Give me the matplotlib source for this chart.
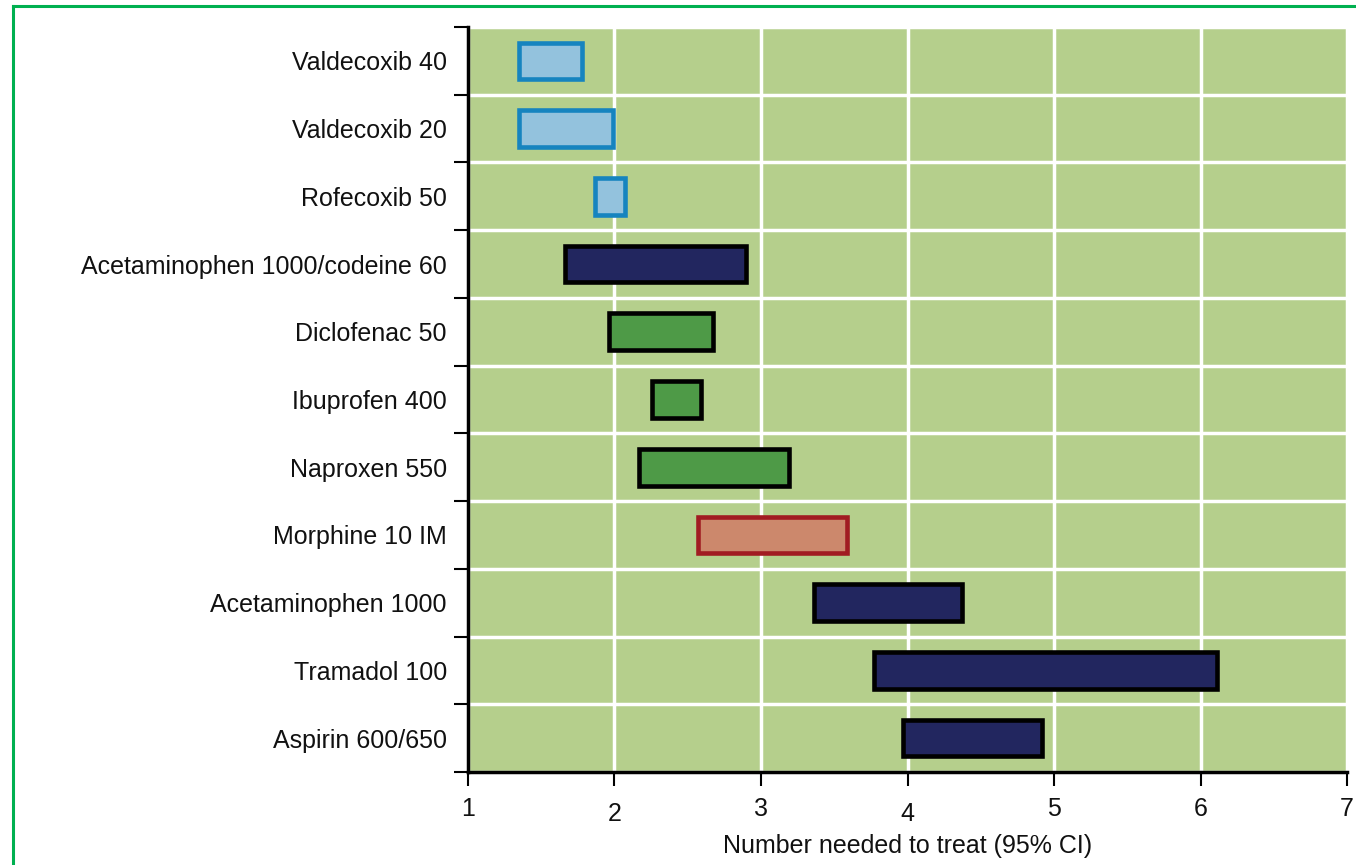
import matplotlib.pyplot as plt
from matplotlib.lines import Line2D
from matplotlib.transforms import ScaledTranslation

# data: 95% CI of NNT, top to bottom
drugs = ['Valdecoxib 40', 'Valdecoxib 20', 'Rofecoxib 50',
         'Acetaminophen 1000/codeine 60', 'Diclofenac 50', 'Ibuprofen 400',
         'Naproxen 550', 'Morphine 10 IM', 'Acetaminophen 1000',
         'Tramadol 100', 'Aspirin 600/650']
ci_low = [1.35, 1.35, 1.87, 1.66, 1.96, 2.26, 2.17, 2.57, 3.36, 3.77, 3.97]
ci_high = [1.78, 1.99, 2.07, 2.90, 2.67, 2.59, 3.19, 3.59, 4.37, 6.11, 4.92]
groups = ['cox2', 'cox2', 'cox2', 'combo', 'nsaid', 'nsaid', 'nsaid',
          'opioid', 'combo', 'combo', 'combo']

fills = {'cox2': '#93c2dd', 'combo': '#22265f', 'nsaid': '#4e9a47', 'opioid': '#cc886c'}
edges = {'cox2': '#1684bf', 'combo': '#000000', 'nsaid': '#000000', 'opioid': '#a11c22'}

plt.rcParams['font.family'] = ['Liberation Sans', 'DejaVu Sans']

fig = plt.figure(figsize=(13.56, 8.65), dpi=100)
ax = fig.add_axes([0.345, 0.1075, 0.6485, 0.8613])
ax.set_facecolor('#b5cf8c')

n = len(drugs)
ypos = list(range(n))
for y, lo, hi, g in zip(ypos, ci_low, ci_high, groups):
    ax.barh(y, hi - lo, left=lo, height=0.54, color=fills[g],
            edgecolor=edges[g], linewidth=3.3, zorder=3)

ax.set_xlim(1, 7)
ax.set_ylim(n - 0.5, -0.5)
ax.set_xticks(range(1, 8))
ax.set_yticks(ypos)
ax.set_yticklabels(drugs, fontsize=18, color='#111111')
ax.set_yticks([i - 0.5 for i in range(n + 1)], minor=True)
ax.tick_params(axis='y', which='major', length=0, pad=15)
ax.tick_params(axis='y', which='minor', length=10, width=1.5, direction='out')
ax.tick_params(axis='x', length=10, width=1.5, direction='out', labelsize=18,
               pad=8, labelcolor='#111111')

# the 2 and 4 sit a little lower in the original
for lab in ax.get_xticklabels():
    if lab.get_text() in ('2', '4'):
        lab.set_transform(lab.get_transform() + ScaledTranslation(0, -0.05, fig.dpi_scale_trans))

ax.grid(True, axis='x', which='major', color='white', linewidth=2.5, zorder=1)
ax.grid(True, axis='y', which='minor', color='white', linewidth=2.5, zorder=1)
ax.set_axisbelow(True)

for s in ['top', 'right']:
    ax.spines[s].set_visible(False)
ax.spines['left'].set_linewidth(2.5)
ax.spines['bottom'].set_linewidth(2.5)

ax.set_xlabel('Number needed to treat (95% CI)', fontsize=18, color='#111111',
              labelpad=6)

# green frame round the figure
fig.add_artist(Line2D([0.0098, 0.0098], [0.0, 0.9925], color='#00b050', linewidth=2.2,
                      transform=fig.transFigure))
fig.add_artist(Line2D([0.0098, 1.0], [0.9925, 0.9925], color='#00b050', linewidth=2.2,
                      transform=fig.transFigure))

fig.savefig('out.png', dpi=100)
